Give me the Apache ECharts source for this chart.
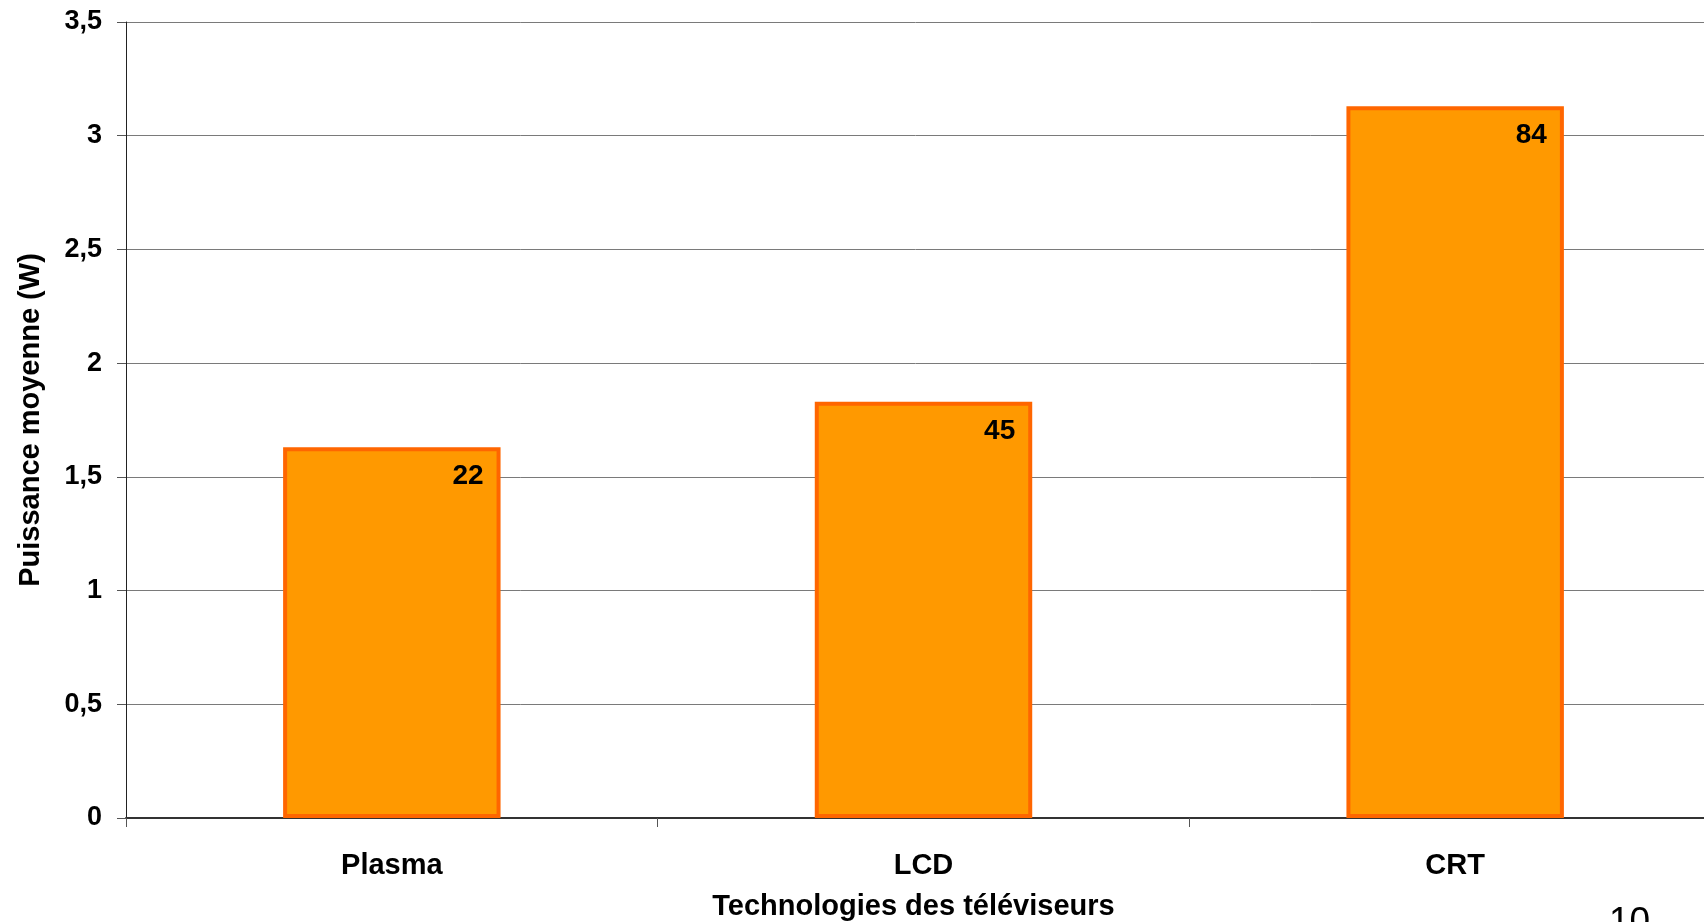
<!DOCTYPE html>
<html>
<head>
<meta charset="utf-8">
<title>Puissance moyenne par technologie</title>
<script src="https://cdn.jsdelivr.net/npm/echarts@6/dist/echarts.min.js"></script>
<style>
  html, body { margin: 0; padding: 0; background: #fff; }
  #chart { width: 1704px; height: 922px; }
</style>
</head>
<body>
<div id="chart"></div>
<script>
// Technologies compared
const categories = ['Plasma', 'LCD', 'CRT'];
// Average power (W) per technology
const powerValues = [1.63, 1.83, 3.13];
// Number of sets measured, shown in each bar
const setCounts = [22, 45, 84];
// Y axis range
const yMin = 0, yMax = 3.5, yStep = 0.5;

const FONT = '"Liberation Sans", Arial, sans-serif';

const chart = echarts.init(document.getElementById('chart'), null, { renderer: 'canvas' });

chart.setOption({
  backgroundColor: '#ffffff',
  animation: false,
  // plot area runs a little past the right edge of the page
  grid: {
    left: 126, width: 1595, top: 22, bottom: 104,
    containLabel: false, outerBoundsMode: 'none'
  },
  xAxis: {
    type: 'category',
    data: categories,
    boundaryGap: true,
    name: 'Technologies des téléviseurs',
    nameLocation: 'middle',
    nameGap: 74,
    nameTextStyle: {
      fontFamily: FONT, fontWeight: 'bold', fontSize: 29, color: '#000',
      padding: [0, 20, 0, 0], verticalAlign: 'top'
    },
    axisLine: { show: true, lineStyle: { color: '#333', width: 2 } },
    axisTick: { show: true, length: 9, lineStyle: { color: '#555', width: 1 } },
    axisLabel: {
      margin: 33, fontFamily: FONT, fontWeight: 'bold', fontSize: 29, color: '#000'
    },
    splitLine: { show: false }
  },
  yAxis: {
    type: 'value',
    min: yMin, max: yMax, interval: yStep,
    name: 'Puissance moyenne (W)',
    nameLocation: 'middle',
    nameGap: 81,
    nameTextStyle: { fontFamily: FONT, fontWeight: 'bold', fontSize: 29, color: '#000' },
    axisLine: { show: true, lineStyle: { color: '#222', width: 1 } },
    axisTick: { show: true, length: 9, lineStyle: { color: '#555', width: 1 } },
    axisLabel: {
      margin: 24, fontFamily: FONT, fontWeight: 'bold', fontSize: 27, color: '#000',
      formatter: v => String(v).replace('.', ',')
    },
    splitLine: { show: true, lineStyle: { color: '#7a7a7a', width: 1 } }
  },
  series: [{
    type: 'bar',
    data: powerValues,
    barWidth: '40.9%',
    itemStyle: { color: '#FF9900', borderColor: '#FF6600', borderWidth: 4 },
    label: {
      show: true,
      position: 'insideTopRight',
      distance: 15,
      offset: [-2, 0],
      fontFamily: FONT, fontWeight: 'bold', fontSize: 28, color: '#000',
      formatter: p => String(setCounts[p.dataIndex])
    }
  }],
  graphic: [{
    type: 'text',
    left: 1609, top: 904,
    style: { text: '10', fontFamily: FONT, fontSize: 37, fill: '#000' }
  }]
});
</script>
</body>
</html>
